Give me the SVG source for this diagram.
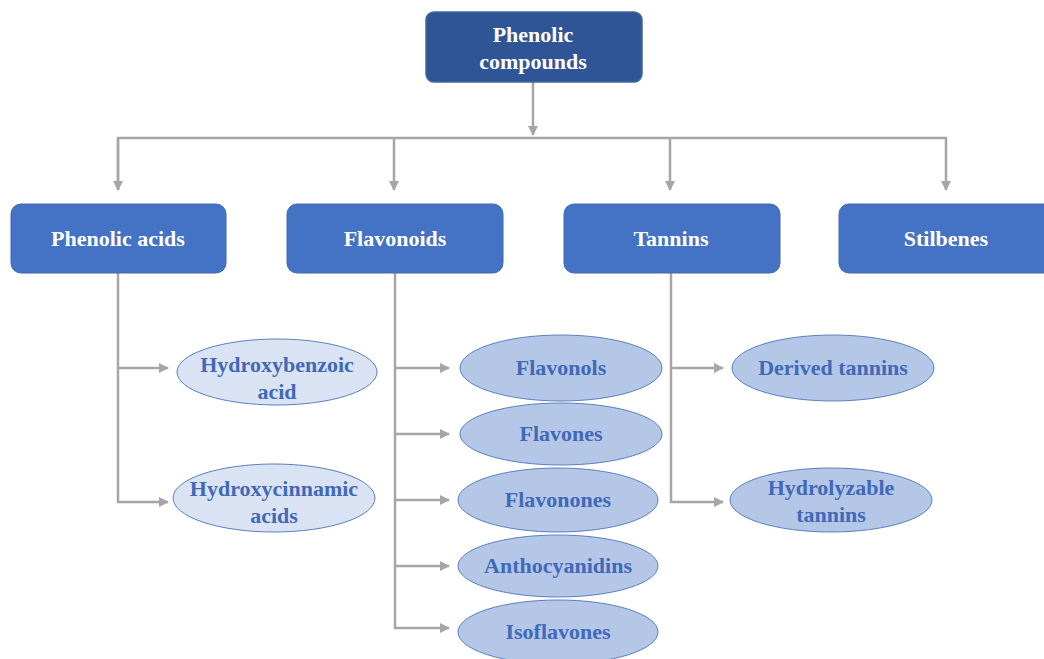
<svg xmlns="http://www.w3.org/2000/svg" width="1044" height="659" viewBox="0 0 1044 659">
<style>
.box{fill:#4472C4;stroke:#3D68B5;stroke-width:1}
.top{fill:#2F5597;stroke:#41659F;stroke-width:1.5}
.bt{font-family:"Liberation Serif","Times New Roman",serif;font-weight:bold;font-size:22px;fill:#FFFFFF;text-anchor:middle}
.el1{fill:#DAE3F3;stroke:#5B7FC0;stroke-width:1}
.el2{fill:#B4C7E7;stroke:#5B7FC0;stroke-width:1}
.et{font-family:"Liberation Serif","Times New Roman",serif;font-weight:bold;font-size:22px;fill:#4169B8;text-anchor:middle}
.c{fill:none;stroke:#A6A6A6;stroke-width:2.5}
</style>
<defs>
<marker id="ah" viewBox="0 0 10 10" refX="9" refY="5" markerWidth="4" markerHeight="4" orient="auto" markerUnits="strokeWidth">
<path d="M0,0 L10,5 L0,10 z" fill="#A6A6A6"/>
</marker>
</defs>
<rect width="1044" height="659" fill="#FFFFFF"/>
<g id="connectors">
<line class="c" x1="533" y1="82" x2="533" y2="135" marker-end="url(#ah)"/>
<polyline class="c" points="118,190 118,138 946,138 946,190" marker-end="url(#ah)"/>
<line class="c" x1="118" y1="138" x2="118" y2="190" marker-end="url(#ah)"/>
<line class="c" x1="394" y1="138" x2="394" y2="190" marker-end="url(#ah)"/>
<line class="c" x1="670" y1="138" x2="670" y2="190" marker-end="url(#ah)"/>
<polyline class="c" points="118,273 118,502 168,502" marker-end="url(#ah)"/>
<line class="c" x1="118" y1="368" x2="168" y2="368" marker-end="url(#ah)"/>
<polyline class="c" points="395,273 395,628 449,628" marker-end="url(#ah)"/>
<line class="c" x1="395" y1="368" x2="449" y2="368" marker-end="url(#ah)"/>
<line class="c" x1="395" y1="434" x2="449" y2="434" marker-end="url(#ah)"/>
<line class="c" x1="395" y1="500" x2="449" y2="500" marker-end="url(#ah)"/>
<line class="c" x1="395" y1="566" x2="449" y2="566" marker-end="url(#ah)"/>
<polyline class="c" points="671,273 671,502 723,502" marker-end="url(#ah)"/>
<line class="c" x1="671" y1="368" x2="723" y2="368" marker-end="url(#ah)"/>
</g>
<g id="phenolic-compounds">
<rect class="top" x="426" y="12" width="216" height="70" rx="8"/>
<text class="bt" x="533" y="42">Phenolic</text>
<text class="bt" x="533" y="69">compounds</text>
</g>
<g id="phenolic-acids">
<rect class="box" x="11" y="204" width="215" height="69" rx="10"/>
<text class="bt" x="118" y="246">Phenolic acids</text>
</g>
<g id="flavonoids">
<rect class="box" x="287" y="204" width="216" height="69" rx="10"/>
<text class="bt" x="395" y="246">Flavonoids</text>
</g>
<g id="tannins">
<rect class="box" x="564" y="204" width="216" height="69" rx="10"/>
<text class="bt" x="671" y="246">Tannins</text>
</g>
<g id="stilbenes">
<rect class="box" x="839" y="204" width="220" height="69" rx="10"/>
<text class="bt" x="946" y="246">Stilbenes</text>
</g>
<g id="hydroxybenzoic">
<ellipse class="el1" cx="277" cy="372" rx="100" ry="33"/>
<text class="et" x="277" y="372">Hydroxybenzoic</text>
<text class="et" x="277" y="399">acid</text>
</g>
<g id="hydroxycinnamic">
<ellipse class="el1" cx="274" cy="498" rx="101" ry="34"/>
<text class="et" x="274" y="496">Hydroxycinnamic</text>
<text class="et" x="274" y="523">acids</text>
</g>
<g id="flavonols">
<ellipse class="el2" cx="561" cy="368" rx="101" ry="33"/>
<text class="et" x="561" y="375">Flavonols</text>
</g>
<g id="flavones">
<ellipse class="el2" cx="561" cy="434" rx="101" ry="31"/>
<text class="et" x="561" y="441">Flavones</text>
</g>
<g id="flavonones">
<ellipse class="el2" cx="558" cy="500" rx="100" ry="32"/>
<text class="et" x="558" y="507">Flavonones</text>
</g>
<g id="anthocyanidins">
<ellipse class="el2" cx="558" cy="566" rx="100" ry="31"/>
<text class="et" x="558" y="573">Anthocyanidins</text>
</g>
<g id="isoflavones">
<ellipse class="el2" cx="558" cy="632" rx="100" ry="32"/>
<text class="et" x="558" y="639">Isoflavones</text>
</g>
<g id="derived-tannins">
<ellipse class="el2" cx="833" cy="368" rx="101" ry="33"/>
<text class="et" x="833" y="375">Derived tannins</text>
</g>
<g id="hydrolyzable-tannins">
<ellipse class="el2" cx="831" cy="500" rx="101" ry="32"/>
<text class="et" x="831" y="495">Hydrolyzable</text>
<text class="et" x="831" y="522">tannins</text>
</g>
</svg>
